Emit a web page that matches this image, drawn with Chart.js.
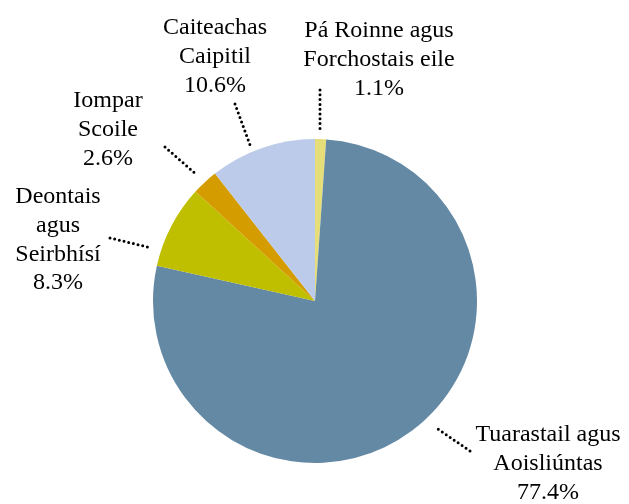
<!DOCTYPE html>
<html>
<head>
<meta charset="utf-8">
<script src="https://cdn.jsdelivr.net/npm/chart.js@4.4.1/dist/chart.umd.min.js"></script>
<style>
  html, body { margin: 0; padding: 0; background: #fff; }
  #wrap { width: 629px; height: 504px; }
</style>
</head>
<body>
<div id="wrap"><canvas id="pieCostais" width="629" height="504"></canvas></div>
<script>
// Sonraí
const catLines = [
  ["Pá Roinne agus", "Forchostais eile"],
  ["Tuarastail agus", "Aoisliúntas"],
  ["Deontais", "agus", "Seirbhísí"],
  ["Iompar", "Scoile"],
  ["Caiteachas", "Caipitil"]
];
const percents = [1.1, 77.4, 8.3, 2.6, 10.6];
const colores = ["#e6de78", "#6489a5", "#bfbf00", "#d59c00", "#bccbe9"];

// posición de etiquetas (centro x, y de la primera línea) y líneas guía
const labelPos = [[379, 31], [548, 435], [58, 197], [108, 101], [215, 28]];
const leaders = [
  [[320, 90], [320, 133]],
  [[470, 451], [435, 427]],
  [[110, 238], [152, 248]],
  [[165, 147], [197, 175]],
  [[235, 104], [250, 145]]
];

const etiquetas = {
  id: "etiquetas",
  afterDraw(chart) {
    const ctx = chart.ctx;
    ctx.save();
    // líneas de puntos
    ctx.strokeStyle = "#000";
    ctx.lineWidth = 3;
    ctx.lineCap = "round";
    ctx.setLineDash([0, 4.8]);
    leaders.forEach(l => {
      ctx.beginPath();
      ctx.moveTo(l[0][0], l[0][1]);
      ctx.lineTo(l[1][0], l[1][1]);
      ctx.stroke();
    });
    ctx.setLineDash([]);
    // texto
    ctx.fillStyle = "#000";
    ctx.font = "24px 'Liberation Serif', serif";
    ctx.textAlign = "center";
    ctx.textBaseline = "middle";
    catLines.forEach((lines, i) => {
      const all = lines.concat([percents[i].toFixed(1) + "%"]);
      all.forEach((t, j) => {
        ctx.fillText(t, labelPos[i][0], labelPos[i][1] + j * 28.7);
      });
    });
    ctx.restore();
  }
};

const ctx = document.getElementById("pieCostais");
const myPieChart = new Chart(ctx, {
  type: "pie",
  data: {
    labels: catLines.map(l => l.join(" ")),
    datasets: [
      {
        data: percents,
        backgroundColor: colores,
        borderWidth: 0,
      },
    ],
  },
  options: {
    responsive: false,
    animation: false,
    layout: { padding: { top: 139, bottom: 41, left: 153, right: 152 } },
    plugins: {
      legend: { display: false },
      tooltip: { enabled: false },
    },
  },
  plugins: [etiquetas],
});
</script>
</body>
</html>
